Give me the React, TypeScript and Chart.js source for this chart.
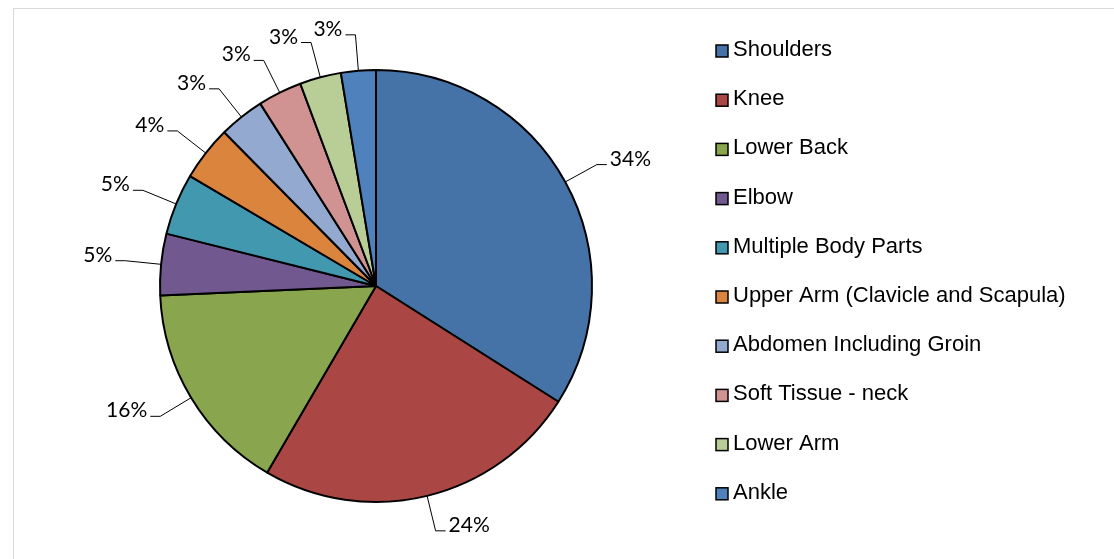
import React, { useEffect, useRef } from "react";
import { Chart, registerables } from "chart.js";

Chart.register(...registerables);

const categories = [
  "Shoulders",
  "Knee",
  "Lower Back",
  "Elbow",
  "Multiple Body Parts",
  "Upper Arm (Clavicle and Scapula)",
  "Abdomen Including Groin",
  "Soft Tissue - neck",
  "Lower Arm",
  "Ankle",
];
const counts = [340, 244, 159, 46, 46, 41, 34, 33, 31, 26];
const colors = [
  "#4572A7",
  "#AA4643",
  "#89A54E",
  "#71588F",
  "#4198AF",
  "#DB843D",
  "#93A9CF",
  "#D19392",
  "#B9CD96",
  "#4F81BD",
];

const leaderLabels = {
  id: "leaderLabels",
  afterDatasetsDraw(chart: any) {
    const ctx = chart.ctx;
    const meta = chart.getDatasetMeta(0);
    const data = chart.data.datasets[0].data as number[];
    const total = data.reduce((a, b) => a + b, 0);
    ctx.save();
    ctx.font = "21px Lato";
    ctx.fillStyle = "#000";
    ctx.strokeStyle = "#000";
    ctx.lineWidth = 1;
    meta.data.forEach((arc: any, i: number) => {
      const { x, y, startAngle, endAngle, outerRadius } = arc;
      const mid = (startAngle + endAngle) / 2;
      const dx = Math.cos(mid);
      const dy = Math.sin(mid);
      const p0x = x + dx * outerRadius;
      const p0y = y + dy * outerRadius;
      const ext = outerRadius + 36;
      const ex = x + dx * ext;
      const ey = y + dy * ext;
      const right = dx >= 0;
      const sx = ex + (right ? 10 : -10);
      ctx.beginPath();
      ctx.moveTo(p0x, p0y);
      ctx.lineTo(ex, ey);
      ctx.lineTo(sx, ey);
      ctx.stroke();
      const text = Math.round((data[i] * 100) / total) + "%";
      ctx.textBaseline = "alphabetic";
      ctx.textAlign = right ? "left" : "right";
      ctx.fillText(text, sx + (right ? 3 : -3), ey + 1);
    });
    ctx.restore();
  },
};

const sideLegend = {
  id: "sideLegend",
  afterDraw(chart: any) {
    const ctx = chart.ctx;
    const labels = chart.data.labels as string[];
    const bg = chart.data.datasets[0].backgroundColor as string[];
    const x0 = chart.chartArea.right - 2;
    const y0 = 41;
    const step = 49.2;
    const box = 12;
    ctx.save();
    ctx.font = "22px 'Liberation Sans', Arial, sans-serif";
    ctx.textBaseline = "middle";
    ctx.textAlign = "left";
    labels.forEach((lab, i) => {
      const cy = y0 + i * step;
      ctx.fillStyle = bg[i];
      ctx.fillRect(x0, cy - box / 2 + 1, box, box);
      ctx.strokeStyle = "#000";
      ctx.lineWidth = 1.5;
      ctx.strokeRect(x0, cy - box / 2 + 1, box, box);
      ctx.fillStyle = "#000";
      ctx.fillText(lab, x0 + box + 5, cy);
    });
    ctx.restore();
  },
};

export default function App() {
  const ref = useRef<HTMLCanvasElement | null>(null);
  useEffect(() => {
    if (!ref.current) return;
    const chart = new Chart(ref.current, {
      type: "pie",
      data: {
        labels: categories,
        datasets: [
          {
            data: counts,
            backgroundColor: colors,
            borderColor: "#000",
            borderWidth: 2,
          },
        ],
      },
      options: {
        animation: false,
        responsive: false,
        radius: 216,
        layout: { padding: { left: 20, right: 396, top: 24, bottom: 20 } },
        plugins: {
          legend: { display: false },
          tooltip: { enabled: false },
        },
      } as any,
      plugins: [leaderLabels, sideLegend],
    });
    return () => chart.destroy();
  }, []);
  return (
    <div
      style={{
        position: "absolute",
        left: 13,
        top: 8,
        width: 1100,
        height: 551,
        borderLeft: "1px solid #d9d9d9",
        borderTop: "1px solid #d9d9d9",
        background: "#fff",
      }}
    >
      <canvas ref={ref} width={1100} height={550} style={{ display: "block" }} />
    </div>
  );
}
